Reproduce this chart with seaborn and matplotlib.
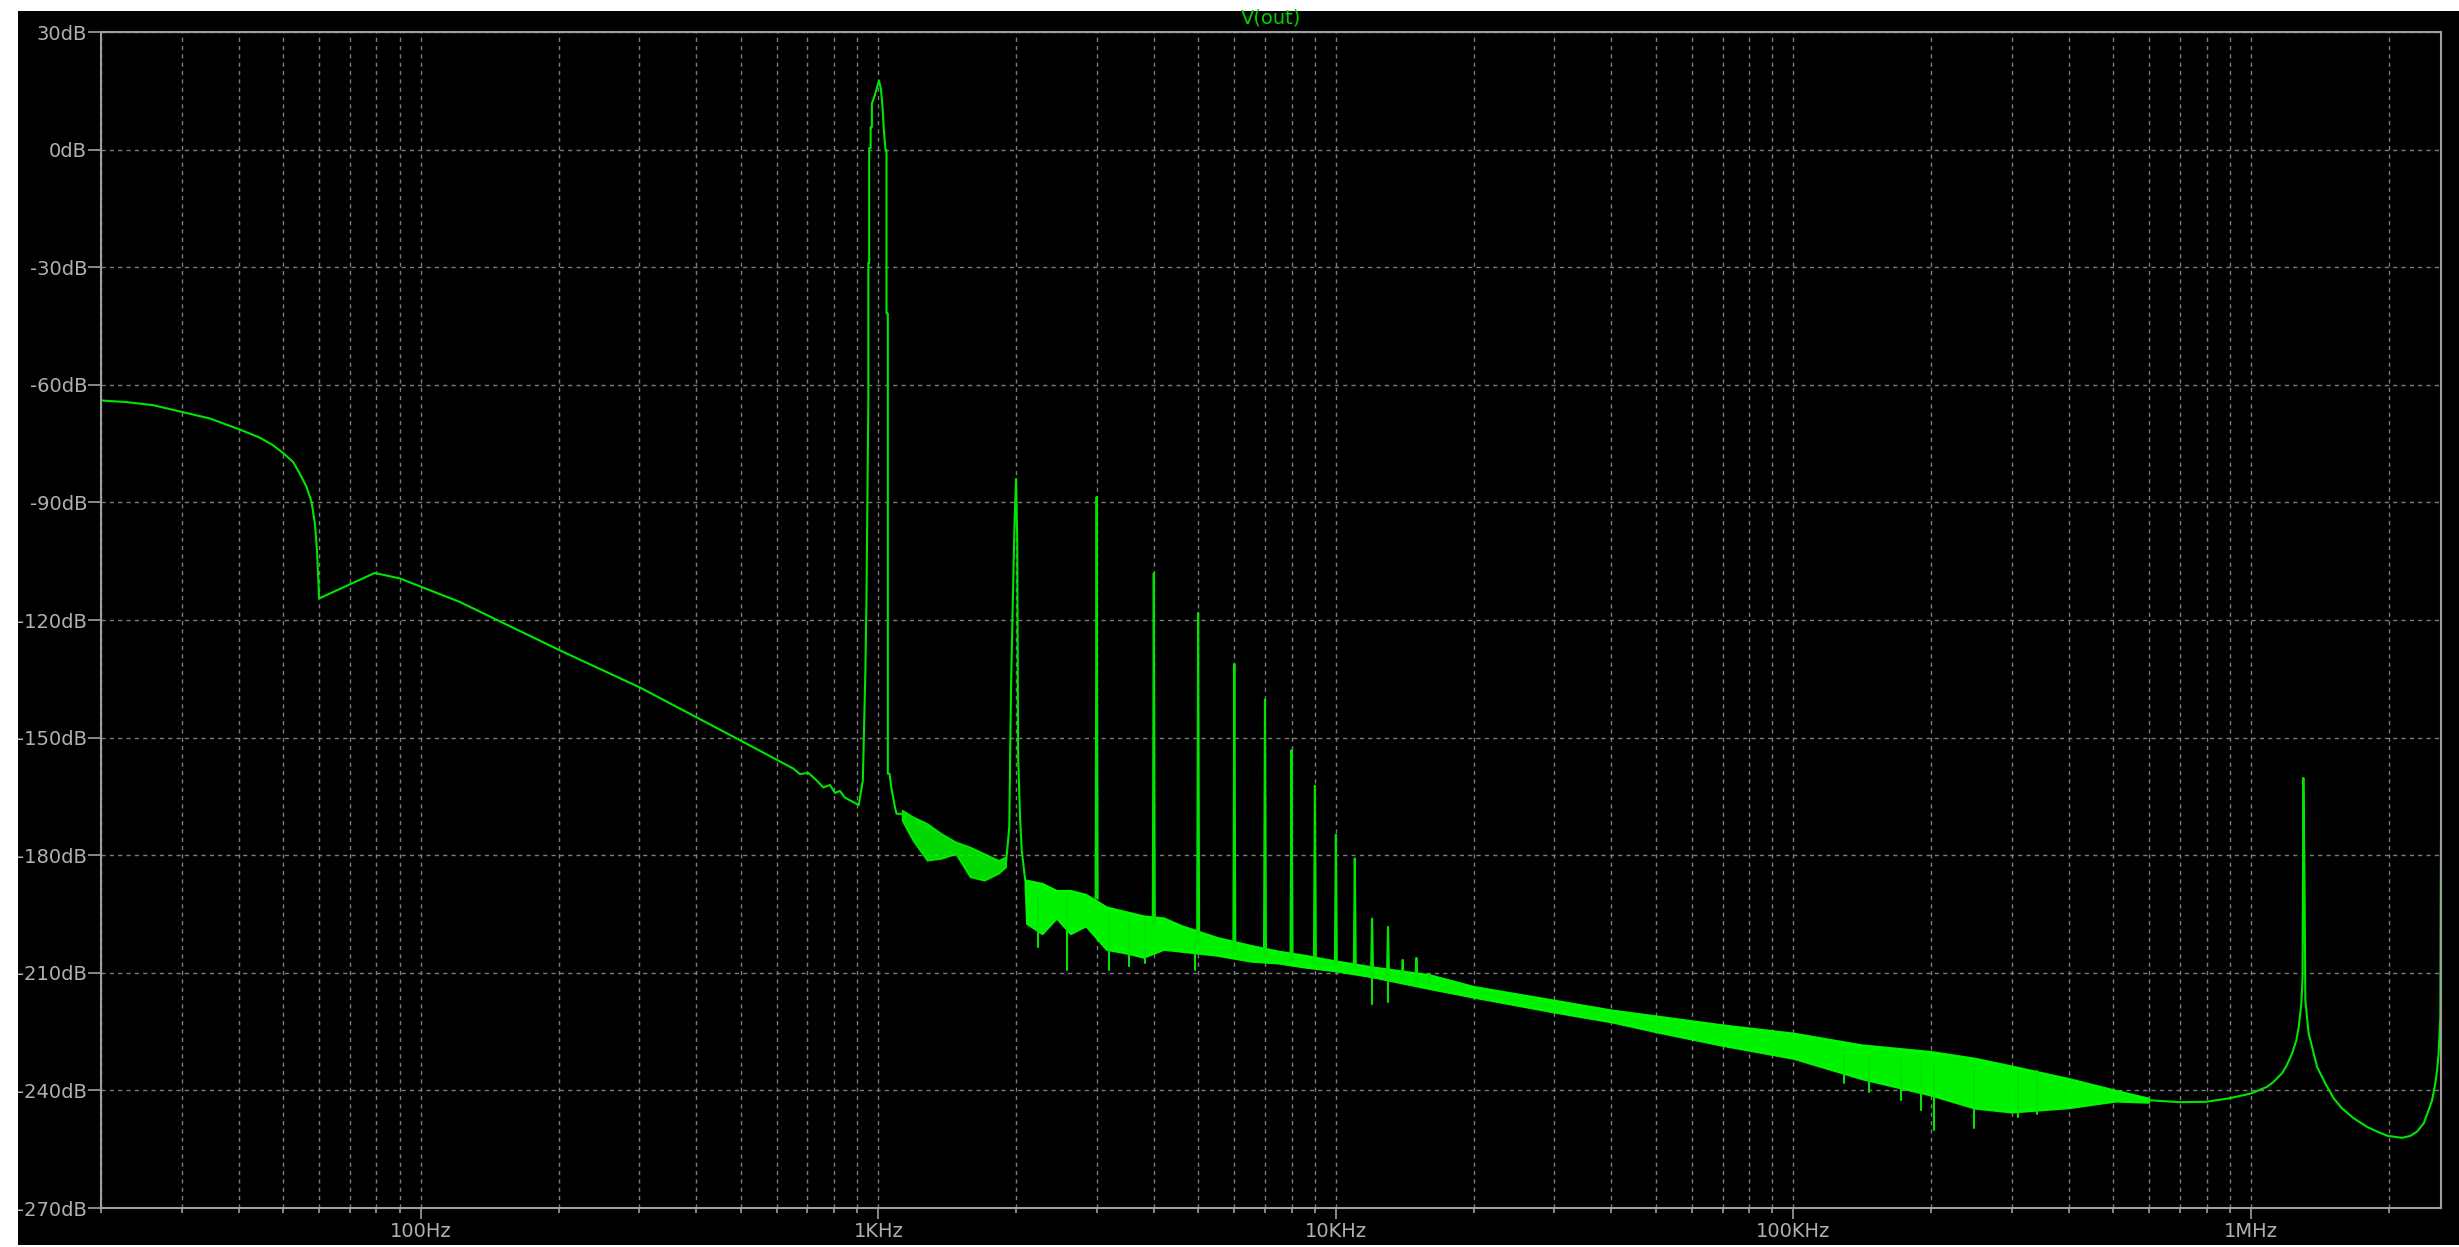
import numpy as np
import pandas as pd
import matplotlib
matplotlib.use("Agg")
import matplotlib.pyplot as plt
from matplotlib.patches import Rectangle
from matplotlib.ticker import LogLocator, NullFormatter
import seaborn as sns

# ---- data (Hz, dB) ----
# main trace: low-frequency roll-off and the 1 kHz fundamental
main_freq = [20, 22.7, 26, 30, 34.6, 40.2, 44.5, 47.5, 50, 52.6, 54.4, 56.3, 57.7, 58.7, 59.3,
             59.76, 59.94, 70, 79.3, 90, 121.7, 201, 301, 499,
             652, 674, 703, 733, 758, 784, 804, 824, 845, 906, 925, 937, 942, 951, 951,
             955, 955, 962, 962, 968, 968, 982, 992, 1003, 1013, 1022, 1028, 1037, 1042,
             1042, 1049, 1049, 1058, 1067, 1087, 1096, 1127]
main_db = [-64.0, -64.4, -65.2, -66.9, -68.6, -71.4, -73.5, -75.4, -77.4, -79.7, -82.7, -86.1,
           -89.9, -95.4, -102.2, -110.7, -114.5, -110.9, -108.0,
           -109.4, -115.4, -127.7, -137.2, -150.7, -157.9, -159.3, -159.0, -160.9, -162.7,
           -162.1, -164.1, -163.6, -165.3, -167.2, -160.9, -132.8, -115.0, -64.0, -28.9,
           -28.9, 0.4, 0.4, 5.7, 5.7, 11.7, 13.8, 15.6, 17.6, 15.5, 10.5, 5.1, -0.2, -0.2,
           -41.8, -41.8, -159.2, -159.2, -162.6, -167.7, -169.4, -169.5]

# 2nd harmonic
h2_freq = [1898, 1933, 1950, 1968, 1985, 2000, 2012, 2021, 2040, 2058, 2094]
h2_db = [-183.0, -172.8, -137.1, -115.0, -95.0, -84.0, -100.0, -154.9, -170.0, -178.7, -186.4]

# high-frequency end with the resonance
hf_freq = [597.5e3, 698.8e3, 799e3, 898e3, 1.0e6, 1.084e6, 1.121e6, 1.17e6, 1.199e6, 1.23e6,
           1.257e6, 1.272e6, 1.289e6, 1.297e6, 1.302e6, 1.310e6, 1.315e6, 1.337e6, 1.395e6,
           1.454e6, 1.516e6, 1.582e6, 1.677e6, 1.794e6, 1.887e6, 1.99e6, 2.051e6, 2.14e6,
           2.231e6, 2.308e6, 2.386e6, 2.446e6, 2.489e6, 2.53e6, 2.552e6, 2.572e6, 2.594e6,
           2.603e6]
hf_db = [-242.5, -243.0, -242.9, -242.0, -240.8, -239.1, -237.8, -235.6, -233.5, -230.6,
         -227.2, -223.8, -217.8, -211.0, -160.3, -187.6, -217.0, -225.4, -234.0,
         -238.2, -242.0, -244.6, -247.1, -249.3, -250.5, -251.6, -251.8, -252.1,
         -251.6, -250.5, -248.4, -245.0, -242.5, -238.2, -234.8, -230.6, -221.2,
         -175.3]

# noise floor envelopes
band_a_freq = [1127, 1190, 1278, 1373, 1476, 1586, 1704, 1831, 1898]
band_a_hi = [-168.5, -170.2, -171.9, -174.5, -176.6, -177.9, -179.6, -181.3, -180.4]
band_a_lo = [-171.1, -176.2, -181.3, -180.8, -179.6, -185.5, -186.4, -184.6, -183.0]

band_b_freq = [2094, 2110, 2280, 2450, 2630, 2840, 3150, 3500, 3800, 4200, 4600, 5500, 6500,
               7500, 8500, 10000, 12000, 16000, 20000, 30000, 40000, 50000, 70000, 100000,
               141000, 200000, 249000, 300000, 400000, 506000, 597500]
band_b_hi = [-186.4, -186.4, -187.2, -189.0, -189.0, -190.0, -193.2, -194.5, -195.5, -196.0,
             -198.0, -201.0, -203.0, -204.5, -205.5, -207.0, -208.5, -210.5, -213.5, -217.0,
             -219.5, -221.0, -223.3, -225.4, -228.4, -230.1, -231.8, -233.8, -237.0, -240.0,
             -242.0]
band_b_lo = [-188.0, -197.4, -200.0, -196.0, -200.0, -198.0, -204.0, -205.0, -206.0, -204.0,
             -204.5, -205.5, -207.0, -207.5, -208.5, -209.5, -211.0, -214.0, -216.2, -220.0,
             -222.5, -225.0, -228.5, -231.8, -237.0, -241.2, -244.5, -245.5, -244.4, -242.7,
             -243.0]

# harmonics 3k..16k
harm_freq = [3000, 4000, 5000, 6000, 7000, 8000, 9000, 10000, 11000, 12000, 13000, 14000,
             15000, 16000]
harm_peak = [-88.6, -108.1, -118.2, -131.2, -140.3, -153.2, -162.3, -174.8, -180.8, -196.2,
             -198.3, -206.7, -206.2, -210.3]
harm_base = [-191.0, -197.9, -202.8, -204.2, -205.7, -206.7, -207.6, -208.1, -209.1, -210.0,
             -210.9, -211.4, -212.0, -212.5]

# downward noise spikes
dip_freq = [2230, 2580, 3200, 3530, 3830, 4920, 12000, 13000, 129e3, 146e3, 172e3, 190e3,
            203e3, 248e3, 310e3, 340e3]
dip_top = [-190, -190, -195, -196, -197, -201, -210, -211, -230, -231, -232, -232, -233,
           -234, -235, -235]
dip_db = [-203.4, -209.3, -209.3, -208.3, -207.5, -209.3, -217.9, -217.4, -238.2, -240.3,
          -242.5, -245.0, -250.1, -249.7, -246.7, -246.0]

y_ticks = list(range(30, -271, -30))
y_labels = [f"{v}dB" for v in y_ticks]
x_ticks = [100, 1e3, 1e4, 1e5, 1e6]
x_labels = ["100Hz", "1KHz", "10KHz", "100KHz", "1MHz"]

# ---- build segment table ----
parts = [pd.DataFrame({"freq": main_freq, "db": main_db, "seg": "main"}),
         pd.DataFrame({"freq": h2_freq, "db": h2_db, "seg": "h2"}),
         pd.DataFrame({"freq": hf_freq, "db": hf_db, "seg": "hf"})]
for i, (f, p, b) in enumerate(zip(harm_freq, harm_peak, harm_base)):
    parts.append(pd.DataFrame({"freq": [f * 0.995, f, f * 1.005], "db": [b, p, b],
                               "seg": f"h{i + 3}"}))
for i, (f, t, d) in enumerate(zip(dip_freq, dip_top, dip_db)):
    parts.append(pd.DataFrame({"freq": [f, f], "db": [t, d], "seg": f"d{i}"}))
df = pd.concat(parts, ignore_index=True)

green = "#00e600"
frame = "#a0a0a0"
grid = "#7c7c7c"
text = "#b0b0b0"

sns.set_style("dark")
plt.rcParams["font.family"] = ["DejaVu Sans"]

fig = plt.figure(figsize=(24.59, 12.47), dpi=100, facecolor="white")
fig.patches.append(Rectangle((18 / 2459, 2 / 1247), 1 - 18 / 2459, 1234 / 1247,
                             transform=fig.transFigure, facecolor="black",
                             edgecolor="none", zorder=-10))
ax = fig.add_axes([101 / 2459, 1 - 1208 / 1247, 2340 / 2459, 1176 / 1247])
ax.set_facecolor("black")
ax.set_xscale("log")

ax.fill_between(band_a_freq, band_a_lo, band_a_hi, facecolor="#00ff00", edgecolor="#00ff00",
                lw=1.2, alpha=0.85)
ax.fill_between(band_b_freq, band_b_lo, band_b_hi, facecolor="#00ff00", edgecolor="#00ff00",
                lw=1.6, alpha=0.95)
sns.lineplot(data=df, x="freq", y="db", units="seg", estimator=None, sort=False,
             color=green, lw=1.5, ax=ax)

ax.set_xlim(20, 2.603e6)
ax.set_ylim(-270, 30)
ax.set_xticks(x_ticks, labels=x_labels)
ax.xaxis.set_minor_locator(LogLocator(base=10, subs=np.arange(2, 10)))
ax.xaxis.set_minor_formatter(NullFormatter())
ax.set_yticks(y_ticks, labels=y_labels)
ax.set_xlabel("")
ax.set_ylabel("")

ax.grid(True, which="major", axis="both", color=grid, ls=(0, (3, 3)), lw=1)
ax.grid(True, which="minor", axis="x", color=grid, ls=(0, (3, 3)), lw=1)
ax.set_axisbelow(True)

ax.tick_params(axis="y", which="major", length=9.4, width=1.2, color=frame,
               labelcolor=text, labelsize=14, pad=0.5, direction="out", left=True)
ax.tick_params(axis="x", which="major", length=8, width=1.2, color=frame,
               labelcolor=text, labelsize=14, pad=2, direction="out", bottom=True)
ax.tick_params(axis="x", which="minor", length=3.6, width=1.2, color=frame,
               direction="out", bottom=True)
for s in ax.spines.values():
    s.set_visible(True)
    s.set_color(frame)
    s.set_linewidth(1.5)

ax.text(0.5, 1 + 14 / 1176, "V(out)", transform=ax.transAxes, ha="center", va="center",
        color="#00d000", fontsize=14)

fig.savefig("out.png", dpi=100, facecolor="white")
